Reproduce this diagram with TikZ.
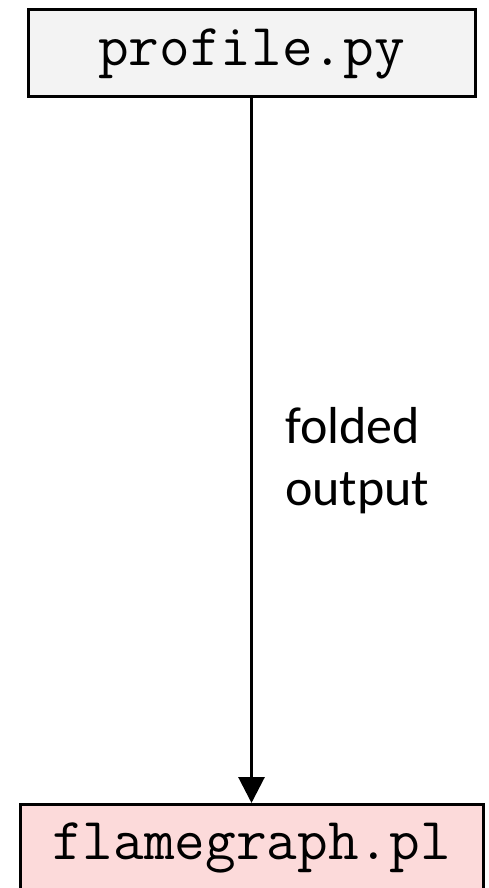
\documentclass[tikz,border=0pt]{standalone}
\usepackage{fontspec}
\setmainfont{Carlito}
\usepackage{xcolor}
\definecolor{scriptColor}{HTML}{F3F3F3}
\definecolor{toolColor}{HTML}{FCDADA}
\usepackage{tikz}
\usetikzlibrary{arrows.meta, positioning, calc}

\begin{document}
\begin{tikzpicture}[x=1pt, y=-1pt, >={Triangle[length=26pt, width=26pt]},
    filebox/.style={draw=black, line width=3pt, inner sep=0pt, font=\ttfamily\fontsize{59.5}{64}\selectfont},
    note/.style={font=\fontsize{52}{62}\selectfont, align=left, inner sep=0pt}]
        % Page frame
        \useasboundingbox (0,0) rectangle (489,888);

        % Boxes
        \node[filebox, fill=scriptColor, minimum width=447pt, minimum height=87pt] (profile) at (251.5, 53.5) {profile.py};
        \node[filebox, fill=toolColor, minimum width=463pt, minimum height=87pt] (flame) at (251.5, 848) {flamegraph.pl};

        % Pipe
        \draw[->, line width=3pt] (profile.south) -- (profile.south |- flame.north);

        % Label
        \node[note, anchor=west] (folded) at (285, 461) {folded\\output};
    \end{tikzpicture}
\end{document}
